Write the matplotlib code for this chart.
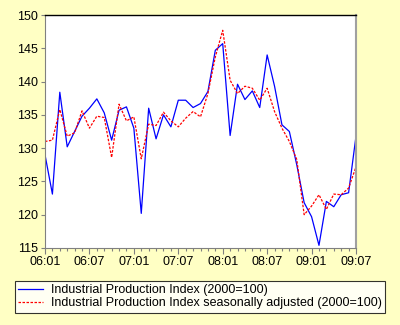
import matplotlib
matplotlib.use("Agg")
import matplotlib.pyplot as plt
from matplotlib.lines import Line2D

months = ["06:01","06:02","06:03","06:04","06:05","06:06","06:07","06:08","06:09","06:10","06:11","06:12",
          "07:01","07:02","07:03","07:04","07:05","07:06","07:07","07:08","07:09","07:10","07:11","07:12",
          "08:01","08:02","08:03","08:04","08:05","08:06","08:07","08:08","08:09","08:10","08:11","08:12",
          "09:01","09:02","09:03","09:04","09:05","09:06","09:07"]

ipi = [129.0, 123.1, 138.4, 130.2, 132.5, 134.8, 136.0, 137.4, 135.3, 131.2, 135.7, 136.2,
       133.0, 120.2, 136.0, 131.4, 135.0, 133.2, 137.2, 137.2, 136.1, 136.7, 138.5, 144.7,
       145.7, 131.9, 139.6, 137.3, 138.6, 136.1, 144.0, 139.3, 133.5, 132.5, 127.5, 121.8,
       119.7, 115.4, 122.0, 121.2, 123.0, 123.3, 131.8]

ipi_sa = [131.0, 131.2, 135.8, 131.8, 132.3, 135.6, 133.0, 134.8, 134.6, 128.6, 136.6, 134.1,
          134.7, 128.4, 133.6, 133.4, 135.4, 134.1, 133.2, 134.5, 135.5, 134.7, 138.2, 143.7,
          147.7, 140.2, 138.2, 139.3, 139.0, 137.2, 139.0, 135.5, 133.0, 131.0, 128.3, 120.0,
          121.3, 123.0, 120.8, 123.1, 123.0, 124.0, 127.2]

yticks = [115, 120, 125, 130, 135, 140, 145, 150]
label_every = 6
legend_labels = ["Industrial Production Index (2000=100)",
                 "Industrial Production Index seasonally adjusted (2000=100)"]

bg = "#FFFFC4"
plt.rcParams['font.family'] = ['Liberation Sans', 'DejaVu Sans']

fig = plt.figure(figsize=(4.0, 3.25), dpi=100, facecolor=bg)
ax = fig.add_axes([45/400, 1-248/325, (356-45)/400, (248-15)/325])
ax.set_facecolor("white")

x = list(range(len(months)))
ax.plot(x, ipi, color="#0000FF", lw=0.9)
ax.plot(x, ipi_sa, color="#FF0000", lw=0.9, ls=(0, (2, 1.2)))

ax.set_xlim(0, len(months) - 1)
ax.set_ylim(115, 150)
ax.set_yticks(yticks)
ax.set_xticks([i for i in x if i % label_every == 0])
ax.set_xticklabels([months[i] for i in x if i % label_every == 0])
ax.set_xticks(x, minor=True)

ax.tick_params(axis='both', which='major', direction='out', length=3, width=0.8,
               color="#808080", labelsize=9, pad=2)
ax.tick_params(axis='x', which='minor', direction='out', length=2.5, width=0.8, color="#808080")
ax.tick_params(axis='x', which='major', length=4)

ax.spines['top'].set_color('black')
ax.spines['top'].set_linewidth(1.0)
ax.spines['right'].set_color('#A0A0A0')
ax.spines['right'].set_linewidth(1.5)
ax.spines['left'].set_color('#808080')
ax.spines['bottom'].set_color('#808080')

handles = [Line2D([], [], color="#0000FF", lw=0.9),
           Line2D([], [], color="#FF0000", lw=0.9, ls=(0, (2, 1.2)))]
leg = fig.legend(handles, legend_labels, loc='upper left',
                 bbox_to_anchor=(15/400, 1-318/325, 370/400, 37/325), mode='expand',
                 fontsize=9, frameon=True, fancybox=False, borderpad=0.25,
                 handlelength=2.0, handletextpad=0.6, labelspacing=0.1, borderaxespad=0)
leg.get_frame().set_edgecolor('black')
leg.get_frame().set_linewidth(0.8)

fig.savefig("out.png", dpi=100, facecolor=bg)
